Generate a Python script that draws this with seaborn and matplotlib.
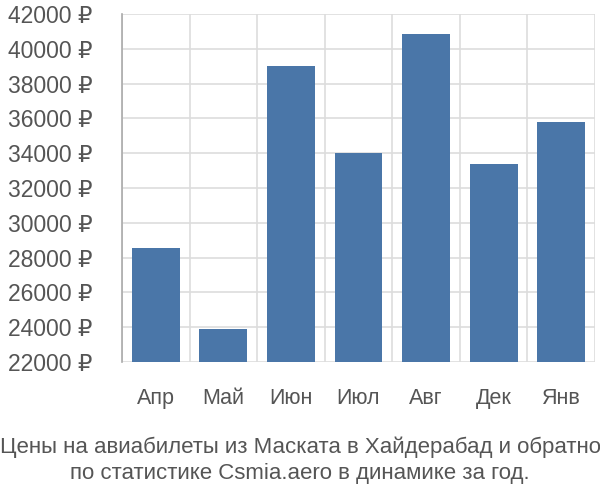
import matplotlib
matplotlib.use("Agg")
import matplotlib.pyplot as plt
import seaborn as sns
import pandas as pd
import numpy as np
from matplotlib.ticker import FixedLocator, FuncFormatter

months = ["Апр", "Май", "Июн", "Июл", "Авг", "Дек", "Янв"]
prices = [28550, 23900, 39010, 34010, 40850, 33380, 35790]
yticks = list(range(22000, 42001, 2000))
title_lines = ["Цены на авиабилеты из Маската в Хайдерабад и обратно",
               "по статистике Csmia.aero в динамике за год."]

sns.set_theme(style="white")
plt.rcParams['font.family'] = ['Liberation Sans', 'DejaVu Sans']

df = pd.DataFrame({"month": months, "price": prices})

fig = plt.figure(figsize=(6, 5), dpi=100)
ax = fig.add_axes([122/600, (500-362)/500, (595-122)/600, (362-14)/500])

sns.barplot(data=df, x="month", y="price", ax=ax, color="#4a76a8",
            saturation=1, width=0.71, zorder=3, linewidth=0)
ax.set_ylim(22000, 42000)
ax.set_xlim(-0.5, len(months) - 0.5)
ax.set_xlabel("")
ax.set_ylabel("")

ax.yaxis.set_major_locator(FixedLocator(yticks))
ax.yaxis.set_major_formatter(FuncFormatter(lambda v, p: f"{int(v)} ₽"))
ax.tick_params(axis="y", length=19, color="#dddddd", width=1.2,
               labelsize=16.5, labelcolor="#555555", pad=2)
ax.grid(axis="y", color="#dddddd", linewidth=1.2, zorder=0)

ax.xaxis.set_minor_locator(FixedLocator(np.arange(-0.5, len(months), 1.0)))
ax.tick_params(axis="x", which="major", length=0, labelsize=15.5,
               labelcolor="#555555", pad=19)
ax.tick_params(axis="x", which="minor", length=18, color="#dddddd", width=1.2)
ax.grid(axis="x", which="minor", color="#dddddd", linewidth=1.2, zorder=0)
ax.grid(axis="x", which="major", visible=False)

for s in ["top", "right", "bottom"]:
    ax.spines[s].set_visible(False)
ax.spines["left"].set_color("#aaaaaa")
ax.spines["left"].set_linewidth(1.2)
ax.spines["left"].set_bounds(22000, 42000)

fig.text(0.5, 1 - 447/500, title_lines[0], ha="center", va="center",
         fontsize=16, color="#555555")
fig.text(0.5, 1 - 474/500, title_lines[1], ha="center", va="center",
         fontsize=16, color="#555555")

fig.savefig("out.png", dpi=100)
